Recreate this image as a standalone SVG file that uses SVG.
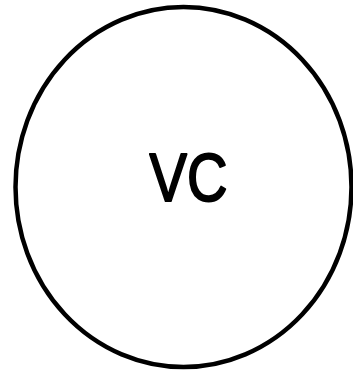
<svg xmlns="http://www.w3.org/2000/svg" width="353" height="373" viewBox="0 0 353 373">
<style>
.node{fill:#fff;stroke:#000;stroke-width:4.5}
.lbl{font-family:"Comic Sans MS","Liberation Sans",sans-serif;font-size:68px;fill:#000;stroke:#000;stroke-width:2;stroke-linejoin:round;text-anchor:middle}
</style>
<rect width="353" height="373" fill="#fff"/>
<g id="connectors"></g>
<g id="node-vc">
<ellipse class="node" cx="183.5" cy="187" rx="168" ry="180"/>
<text class="lbl" x="188.5" y="201" textLength="78" lengthAdjust="spacingAndGlyphs">VC</text>
</g>
</svg>
